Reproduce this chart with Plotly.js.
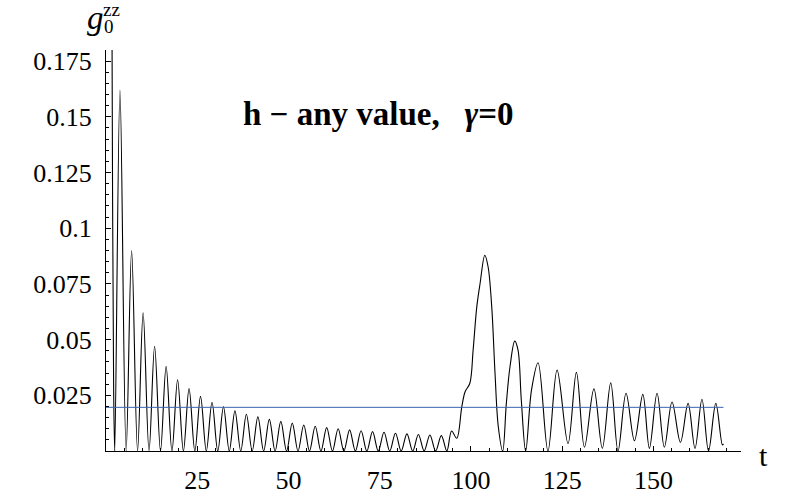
<!DOCTYPE html>
<html>
<head>
<meta charset="utf-8">
<script src="https://cdn.plot.ly/plotly-3.0.1.min.js"></script>
<style>
  body { margin: 0; background: #fff; }
  #plot { width: 800px; height: 494px; }
</style>
</head>
<body>
<div id="plot"></div>
<script>
// g0zz(t): decaying part, then the revival near t ~ 100
const tDecay = [1.0, 1.5, 1.8, 2.1, 2.4,
  3.83, 5.52, 7.02, 8.65, 10.17, 11.79, 13.32, 14.93, 16.47, 18.07,
  19.62, 21.21, 22.76, 24.35, 25.90, 27.49, 29.05, 30.63, 32.19, 33.78,
  35.33, 36.92, 38.47, 40.06, 41.62, 43.20, 44.76, 46.34, 47.90, 49.48,
  51.04, 52.62, 54.19, 55.76, 57.33, 58.90, 60.47, 62.05, 63.61, 65.19,
  66.75, 68.33, 69.90, 71.47, 73.04, 74.61, 76.18, 77.75, 79.32, 80.89,
  82.46, 84.04, 85.60, 87.18, 88.75, 90.32, 91.89, 93.40];
const gDecay = [0.59, 0.26, 0.115, 0.027, 0,
  0.162, 0, 0.090, 0, 0.062, 0, 0.047, 0, 0.038, 0,
  0.032, 0, 0.028, 0, 0.0245, 0, 0.0219, 0, 0.0198, 0,
  0.018, 0, 0.0165, 0, 0.0153, 0, 0.0142, 0, 0.0133, 0,
  0.0125, 0, 0.0117, 0, 0.0111, 0, 0.0105, 0, 0.0100, 0,
  0.0095, 0, 0.0091, 0, 0.0087, 0, 0.0084, 0, 0.0080, 0,
  0.0077, 0, 0.0074, 0, 0.0072, 0, 0.0069, 0];

const tRevival = [94.7, 96.1, 97.5, 98.4, 99.7, 100.6, 101.6, 102.5, 103.8,
  104.7, 105.7, 106.6, 107.5, 108.7, 109.7, 110.7, 112.0, 112.9, 113.8,
  115.0, 116.6, 118.4, 121.1, 123.6, 126.6, 128.9, 131.1, 133.7, 136.0,
  138.3, 140.3, 142.5, 144.8, 147.1, 148.9, 151.0, 153.0, 155.1, 157.4,
  159.5, 161.4, 163.3, 165.1, 167.1, 168.9, 169.2];
const gRevival = [0.009, 0.0057, 0.0199, 0.0266, 0.0304, 0.0453, 0.0647, 0.0752, 0.0879,
  0.0827, 0.0647, 0.0348, 0.0109, 0, 0.0214, 0.0378, 0.0493, 0.0453, 0.0229,
  0, 0.0274, 0.0396, 0, 0.0363, 0.0034, 0.0353, 0.0017, 0.0279, 0.0012,
  0.0306, 0, 0.0259, 0.0046, 0.0254, 0.0012, 0.0259, 0.0017, 0.022, 0.0039,
  0.0214, 0.0012, 0.0232, 0, 0.0214, 0.0027, 0.0032];

// long-time average level
const avgLevel = 0.0196;
const avgSpan = [0, 169.2];

const yTickVals = [0.025, 0.05, 0.075, 0.1, 0.125, 0.15, 0.175];
const yTickText = ['0.025', '0.05', '0.075', '0.1', '0.125', '0.15', '0.175'];
const xTickVals = [25, 50, 75, 100, 125, 150];
const xTickText = ['25', '50', '75', '100', '125', '150'];

const serif = 'Liberation Serif, Times New Roman, serif';

const curve = {
  x: tDecay.concat(tRevival),
  y: gDecay.concat(gRevival),
  type: 'scatter', mode: 'lines',
  line: {color: '#000', width: 1.1, shape: 'spline', smoothing: 1},
  hoverinfo: 'skip'
};

const avgLine = {
  x: avgSpan,
  y: avgSpan.map(() => avgLevel),
  type: 'scatter', mode: 'lines',
  line: {color: '#3a62b0', width: 1},
  hoverinfo: 'skip'
};

const axisCommon = {
  showgrid: false, zeroline: false,
  showline: true, linecolor: '#000', linewidth: 1,
  ticks: 'inside', ticklen: 5, tickwidth: 1, tickcolor: '#000',
  tickmode: 'array',
  tickfont: {family: serif, size: 26, color: '#000'}
};

// little helper, annotations centred on their point
const note = (text, x, y, size) => ({
  text, x, y, xref: 'paper', yref: 'paper',
  xanchor: 'center', yanchor: 'middle', showarrow: false,
  borderpad: 0,
  font: {family: serif, size, color: '#000'}
});

const layout = {
  width: 800, height: 494,
  margin: {l: 106, r: 59, t: 50, b: 43},
  paper_bgcolor: '#fff', plot_bgcolor: '#fff',
  showlegend: false,
  xaxis: {...axisCommon, range: [0, 174],
    tickvals: xTickVals, ticktext: xTickText,
    ticklabelstandoff: 6,
    minor: {dtick: 5, ticks: 'inside', ticklen: 3, tickcolor: '#000'}},
  yaxis: {...axisCommon, range: [0, 0.18],
    tickvals: yTickVals, ticktext: yTickText,
    ticklabelstandoff: 8,
    minor: {dtick: 0.005, ticks: 'inside', ticklen: 3, tickcolor: '#000'}},
  annotations: [
    note('<b>h \u2212 any value,\u00a0\u00a0\u00a0<i>\u03b3</i>=0</b>', 0.428, 0.84, 33),
    note('<i>g</i>', -0.016, 1.08, 33),
    note('zz', 0.0094, 1.1, 19),
    note('0', 0.004, 1.058, 19),
    note('t', 1.035, -0.01, 30)
  ]
};

Plotly.newPlot('plot', [curve, avgLine], layout, {staticPlot: true});
</script>
</body>
</html>
